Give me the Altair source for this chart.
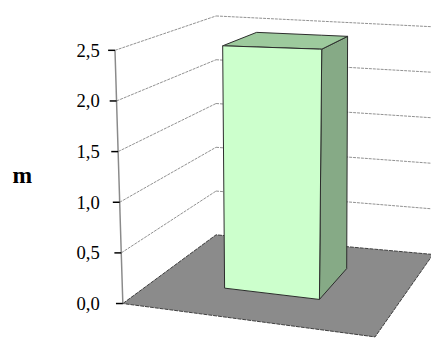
import altair as alt
import pandas as pd

# ---- data ----
categories = ["1"]
values = [2.45]
y_ticks = [0.0, 0.5, 1.0, 1.5, 2.0, 2.5]
y_title = "m"

# ---- 3D view (layout / style parameters) ----
# floor corners on screen: back-left, back-right, front-left, front-right
FX = [220, 441, 125, 382]
FY = [236, 256, 306, 340]
PPU = [89.2, 92.8, 103.2, 114.0]   # pixels per value unit at each corner
DXV = [0.0, 0.0, -3.2, 3.6]        # horizontal drift per value unit
BAR_U = (0.29, 0.685)
BAR_W = (0.26, 0.655)
AXIS_ZERO_Y = 306.0
AXIS_PPU = 103.2
PLOT_LEFT, PLOT_TOP, PLOT_W, PLOT_H = 121, 8, 318, 330
WALL_TOP = max(y_ticks)


def bil(c, u, w):
    return (1 - w) * ((1 - u) * c[0] + u * c[1]) + w * ((1 - u) * c[2] + u * c[3])


def project(u, w, v):
    px = bil(FX, u, w) + bil(DXV, u, w) * v
    py = bil(FY, u, w) - bil(PPU, u, w) * v
    return px, py


def to_val(py):
    return (AXIS_ZERO_Y - py) / AXIS_PPU


def slices(pts):
    xs = sorted(set(p[0] for p in pts))
    rows = []
    n = len(pts)
    for x in xs:
        ys = []
        for i in range(n):
            (x1, y1), (x2, y2) = pts[i], pts[(i + 1) % n]
            lo, hi = min(x1, x2), max(x1, x2)
            if lo - 1e-3 <= x <= hi + 1e-3:
                if abs(x2 - x1) < 1e-6:
                    ys += [y1, y2]
                else:
                    t = min(1.0, max(0.0, (x - x1) / (x2 - x1)))
                    ys.append(y1 + (y2 - y1) * t)
        rows.append({"x": x, "yt": to_val(min(ys)), "yb": to_val(max(ys))})
    return pd.DataFrame(rows)


xscale = alt.Scale(domain=[PLOT_LEFT, PLOT_LEFT + PLOT_W], range=[0, PLOT_W], nice=False, zero=False)
ymin = to_val(PLOT_TOP + PLOT_H)
ymax = to_val(PLOT_TOP)
yscale = alt.Scale(domain=[ymin, ymax], nice=False, zero=False)
yaxis = alt.Axis(
    values=y_ticks,
    labelExpr="replace(format(datum.value, '.1f'), '.', ',')",
    labelFont="Liberation Serif",
    labelFontSize=19,
    labelColor="black",
    labelPadding=20,
    ticks=False,
    domain=False,
    grid=False,
    title=y_title,
    titleFont="Liberation Serif",
    titleFontSize=24,
    titleFontWeight="bold",
    titleColor="black",
    titleAngle=0,
    titleAlign="center",
    titleBaseline="middle",
    titleX=22 - PLOT_LEFT,
    titleY=176 - PLOT_TOP,
)


def poly_layer(pts, fill, stroke, dash=None, sw=1):
    df = slices(pts)
    kw = dict(fill=fill, stroke=stroke, strokeWidth=sw, opacity=1, clip=False)
    if dash:
        kw["strokeDash"] = dash
    return alt.Chart(df).mark_area(**kw).encode(
        x=alt.X("x:Q", scale=xscale, axis=None),
        y=alt.Y("yt:Q", scale=yscale, axis=yaxis),
        y2="yb:Q",
    )


def seg_layer(segs, color, width=1, dash=None):
    rows = [{"x": a[0], "y": to_val(a[1]), "x2": b[0], "y2": to_val(b[1])} for a, b in segs]
    kw = dict(color=color, strokeWidth=width, clip=False)
    if dash:
        kw["strokeDash"] = dash
    return alt.Chart(pd.DataFrame(rows)).mark_rule(**kw).encode(
        x=alt.X("x:Q", scale=xscale, axis=None),
        y=alt.Y("y:Q", scale=yscale, axis=yaxis),
        x2="x2:Q",
        y2="y2:Q",
    )


# floor
floor = poly_layer([project(0, 1, 0), project(0, 0, 0), project(1, 0, 0), project(1, 1, 0)],
                   "#8b8b8b", "#3c3c3c", dash=[4, 1])

# wall gridlines (left wall and back wall)
grid_segs = []
for v in y_ticks:
    if v == 0:
        continue
    grid_segs.append((project(0, 1, v), project(0, 0, v)))
    grid_segs.append((project(0, 0, v), project(1, 0, v)))
grid = seg_layer(grid_segs, "#8f8f8f", 1, dash=[3, 1])

# left wall outer edge
edge = seg_layer([(project(0, 1, 0), project(0, 1, WALL_TOP))], "#8a8a8a", 1.5)

# tick marks along the wall edge
tick_segs = []
for v in y_ticks:
    px, py = project(0, 1, v)
    tick_segs.append(((px - 7, py), (px, py)))
ticks = seg_layer(tick_segs, "black", 1.5)

# bar
u0, u1 = BAR_U
w0, w1 = BAR_W
V = values[0]
side = poly_layer([project(u1, w1, 0), project(u1, w0, 0), project(u1, w0, V), project(u1, w1, V)],
                  "#86aa86", "#2a2a2a")
top = poly_layer([project(u0, w1, V), project(u1, w1, V), project(u1, w0, V), project(u0, w0, V)],
                 "#9dca9d", "#2a2a2a")
front = poly_layer([project(u0, w1, 0), project(u1, w1, 0), project(u1, w1, V), project(u0, w1, V)],
                   "#ccffcc", "#2a2a2a")

chart = alt.layer(floor, grid, edge, ticks, side, top, front).properties(
    width=PLOT_W,
    height=PLOT_H,
    autosize=alt.AutoSizeParams(type="none"),
    padding={"left": PLOT_LEFT - 8, "top": PLOT_TOP - 8, "right": 0, "bottom": 0},
    background="white",
).configure_view(stroke=None)

chart.save("out.html", embed_options={"renderer": "svg", "actions": False})
